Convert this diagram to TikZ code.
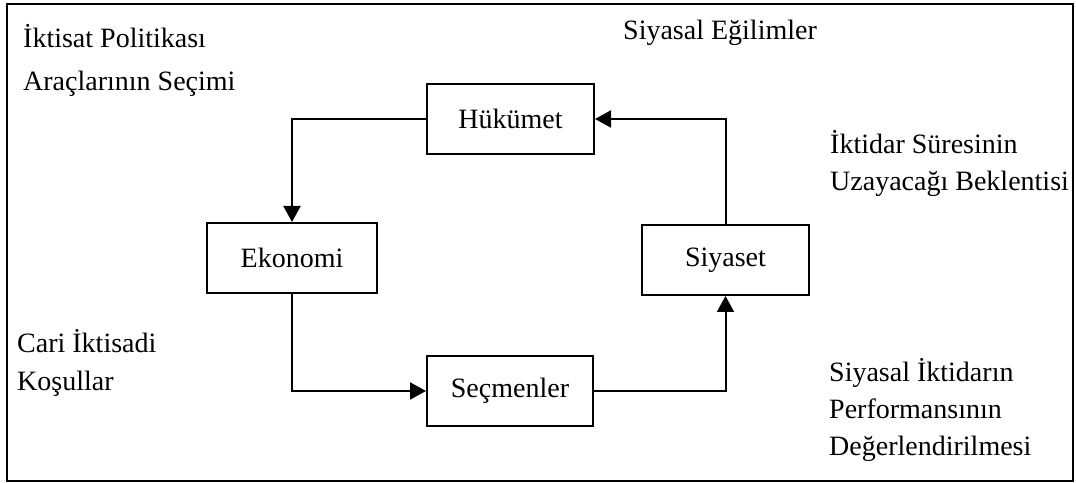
\documentclass[tikz,border=0pt]{standalone}
\usepackage{fontspec}
\setmainfont{Liberation Serif}
\usetikzlibrary{arrows.meta, positioning}
\tikzstyle{block} = [rectangle, draw, line width=2pt, minimum width=167pt, minimum height=70pt, inner sep=0pt, font=\fontsize{28}{34}\selectfont]
\tikzstyle{note} = [anchor=base west, align=left, inner sep=0pt, font=\fontsize{28}{37}\selectfont]
\tikzstyle{arrow} = [line width=2pt, -{Triangle[length=16pt, width=17pt]}]

\begin{document}
\begin{tikzpicture}[x=1pt, y=1pt]
    \useasboundingbox (0,0) rectangle (1076,482);
    \draw [line width=2.5pt] (7,1) rectangle (1073,478);

            % Nodes
            \node (hukumet) [block] at (510.5,363) {Hükümet};
            \node (ekonomi) [block, minimum width=170pt] at (292,224) {Ekonomi};
            \node (siyaset) [block] at (725.5,222) {Siyaset};
            \node (secmenler) [block, minimum width=166pt] at (510,91) {Seçmenler};

            % Side texts (base = last line)
            \node (araclar) [note, font=\fontsize{28}{43}\selectfont] at (23,391) {İktisat Politikası\\Araçlarının Seçimi};
            \node (egilimler) [note] at (623,442) {Siyasal Eğilimler};
            \node (beklenti) [note] at (830,291) {İktidar Süresinin\\Uzayacağı Beklentisi};
            \node (kosullar) [note, font=\fontsize{28}{38}\selectfont] at (17,91) {Cari İktisadi\\Koşullar};
            \node (performans) [note] at (829,27) {Siyasal İktidarın\\Performansının\\Değerlendirilmesi};

            % Arrows
            \draw [arrow] (hukumet.west) -| (ekonomi.north);
            \draw [arrow] (ekonomi.south) |- (secmenler.west);
            \draw [arrow] (secmenler.east) -| (siyaset.south);
            \draw [arrow] (siyaset.north) |- (hukumet.east);

\end{tikzpicture}
\end{document}
